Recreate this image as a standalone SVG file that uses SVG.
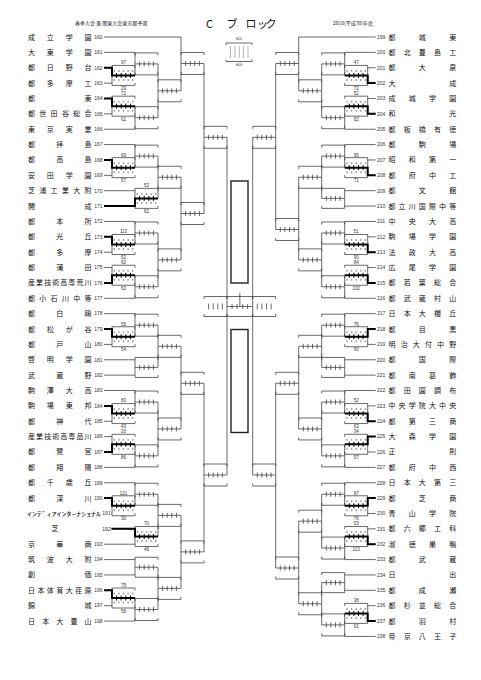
<svg xmlns="http://www.w3.org/2000/svg" width="481" height="680" viewBox="0 0 481 680">
<style>
.ln{fill:none;stroke:#444;stroke-width:.8}
.bk{fill:none;stroke:#000;stroke-width:2}
.tk{fill:none;stroke:#000;stroke-width:1}
.dt{fill:none;stroke:#a0a0a0;stroke-width:2;stroke-dasharray:1.4 3.2}
.big{fill:none;stroke:#222;stroke-width:1.4}
.nm{font-family:"Noto Sans CJK JP","Noto Sans CJK SC",sans-serif;font-size:7px;text-anchor:middle;fill:#111}
.no{font-family:"Liberation Sans",sans-serif;font-size:5px;fill:#333}
.nl{text-anchor:end}
.lb{font-family:"Liberation Sans",sans-serif;font-size:4.5px;text-anchor:middle;fill:#333}
.hd{font-family:"Noto Sans CJK JP",sans-serif;font-size:5px;fill:#222}
.tt{font-family:"Noto Sans CJK JP",sans-serif;font-size:11px;text-anchor:middle;fill:#111}
</style>
<defs>
<g id="o11"><path class="ln" d="M0,-8.5V-11H23V-8.5M0,8.5V11H23V8.5M0,0H23M4.6,-2.5v5M9.2,-2.5v5M13.8,-2.5v5M18.4,-2.5v5"/></g>
<g id="o10"><path class="ln" d="M0,-7.5V-10H23V-7.5M0,7.5V10H23V7.5M0,0H23M4.6,-2.5v5M9.2,-2.5v5M13.8,-2.5v5M18.4,-2.5v5"/></g>
<g id="c10"><path class="ln" d="M0,-7.5V-10H23V-7.5M0,7.5V10H23V7.5"/><path class="dt" d="M1.6,-4.5H23M1.6,4.5H23"/><path class="tk" d="M4.6,-2.5v5M9.2,-2.5v5M13.8,-2.5v5M18.4,-2.5v5"/></g>
<g id="s10"><path class="ln" d="M0,-7.5V-10H23V-7.5M0,7.5V10H23V7.5M4.6,-3v6M9.2,-3v6M13.8,-3v6M18.4,-3v6"/></g>
</defs>
<rect width="481" height="680" fill="#fff"/>
<g id="header">
<text class="hd" x="75" y="25">春季大会 兼 関東大会東京都予選</text>
<text class="tt" x="209.5 232 251 262.5 271" y="28">Cブロック</text>
<text class="hd" x="333" y="25">2018(平成30)年度</text>
</g>
<g id="legend">
<text class="lb" x="239" y="40" style="font-size:3.5px;font-family:'Noto Sans CJK JP',sans-serif">合計</text>
<path class="ln" d="M226,45V43H252V45M226,59.5V61.5H252V59.5"/>
<path class="ln" style="stroke-dasharray:1 1" d="M230.5,46.5V58.5M235,46.5V58.5M239.3,46.5V58.5M243.5,46.5V58.5M248,46.5V58.5"/>
<text class="lb" x="239" y="66" style="font-size:3.5px;font-family:'Noto Sans CJK JP',sans-serif">合計</text>
</g>
<g id="connectors">
<g id="left-bracket">
<path class="ln" d="M104,37H181M104,52.37H135M104,129.22H135M104,144.59H135M104,190.7H135M104,206.07H135M104,221.44H135M104,298.29H135M104,313.66H135M104,359.77H135M104,375.14H135M104,390.51H135M104,467.36H135M104,482.73H135M111.5,528.84H135M104,544.21H135M104,559.58H135M104,574.95H135M104,621.06H135
M104,67.74H112M104,83.11H112M104,98.48H112M104,113.85H112M104,159.96H112M104,175.33H112M104,236.81H112M104,252.18H112M104,267.55H112M104,282.92H112M104,329.03H112M104,344.4H112M104,405.88H112M104,421.25H112M104,436.62H112M104,451.99H112M104,498.1H112M111.5,513.47H112M104,590.32H112M104,605.69H112
M112,67.74V83.11M112,98.48V113.85M112,159.96V175.33M112,236.81V252.18M112,267.55V282.92M112,329.03V344.4M112,405.88V421.25M112,436.62V451.99M112,498.1V513.47M112,590.32V605.69
M135,52.37V75.43M135,106.17V129.22M135,144.59V167.65M135,190.7V206.07M135,221.44V244.5M135,275.24V298.29M135,313.66V336.72M135,359.77V375.14M135,390.51V413.57M135,444.31V467.36M135,482.73V505.79M135,528.84V544.21M135,559.58V574.95M135,598V621.06
M158,63.9V117.7M158,156.12V198.39M158,232.97V286.76M158,325.19V367.45M158,402.04V455.83M158,494.26V536.52M158,567.27V609.53
M181,37V90.8M181,177.25V259.87M181,346.32V428.94M181,515.39V588.4
M204,63.5V213.5M204,383.3V551.9M227,137.3V475"/>
<use href="#c10" x="112" y="75.43"/><use href="#c10" x="112" y="106.17"/><use href="#c10" x="112" y="167.65"/><use href="#c10" x="112" y="244.5"/><use href="#c10" x="112" y="275.24"/><use href="#c10" x="112" y="336.72"/><use href="#c10" x="112" y="413.57"/><use href="#c10" x="112" y="444.31"/><use href="#c10" x="112" y="505.79"/><use href="#c10" x="112" y="598"/>
<use href="#c10" x="135" y="198.39"/><use href="#c10" x="135" y="536.52"/>
<use href="#o11" x="135" y="63.9"/><use href="#o11" x="135" y="117.7"/><use href="#o11" x="135" y="156.12"/><use href="#o11" x="135" y="232.97"/><use href="#o11" x="135" y="286.76"/><use href="#o11" x="135" y="325.19"/><use href="#o11" x="135" y="402.04"/><use href="#o11" x="135" y="455.83"/><use href="#o11" x="135" y="494.26"/><use href="#o11" x="135" y="609.53"/>
<use href="#o10" x="135" y="367.45"/><use href="#o10" x="135" y="567.27"/>
<use href="#o11" x="158" y="90.8"/><use href="#o11" x="158" y="177.25"/><use href="#o11" x="158" y="259.87"/><use href="#o11" x="158" y="346.32"/><use href="#o11" x="158" y="428.94"/><use href="#o11" x="158" y="515.39"/><use href="#o11" x="158" y="588.4"/>
<use href="#o11" x="181" y="63.5"/><use href="#o11" x="181" y="213.5"/><use href="#o11" x="181" y="383.3"/><use href="#o11" x="181" y="551.9"/>
<use href="#o11" x="204" y="137.3"/><use href="#o11" x="204" y="475"/>
<use href="#s10" x="204" y="306.5"/>
<path class="bk" d="M104,67.74H112V75.43H135M104,98.48H112V106.17H135M104,159.96H112V167.65H135M104,206.07H135V198.39H158M104,236.81H112V244.5H135M104,282.92H112V275.24H135M104,329.03H112V336.72H135M104,405.88H112V413.57H135M104,451.99H112V444.31H135M104,498.1H112V505.79H135M111.5,528.84H135V536.52H158M104,590.32H112V598H135"/>
</g>
<g id="right-bracket" transform="matrix(-1 0 0 1 479.7 0)">
<path class="ln" d="M104,37H181M104,52.37H135M104,129.22H135M104,144.59H135M104,190.7H135M104,206.07H135M104,221.44H135M104,298.29H135M104,313.66H135M104,359.77H135M104,375.14H135M104,390.51H135M104,467.36H135M104,482.73H135M104,559.58H135M104,574.95H135M104,590.32H135M104,636.43H135
M104,67.74H112M104,83.11H112M104,98.48H112M104,113.85H112M104,159.96H112M104,175.33H112M104,236.81H112M104,252.18H112M104,267.55H112M104,282.92H112M104,329.03H112M104,344.4H112M104,405.88H112M104,421.25H112M104,436.62H112M104,451.99H112M104,498.1H112M104,513.47H112M104,528.84H112M104,544.21H112M104,605.69H112M104,621.06H112
M112,67.74V83.11M112,98.48V113.85M112,159.96V175.33M112,236.81V252.18M112,267.55V282.92M112,329.03V344.4M112,405.88V421.25M112,436.62V451.99M112,498.1V513.47M112,528.84V544.21M112,605.69V621.06
M135,52.37V75.43M135,106.17V129.22M135,144.59V167.65M135,190.7V206.07M135,221.44V244.5M135,275.24V298.29M135,313.66V336.72M135,359.77V375.14M135,390.51V413.57M135,444.31V467.36M135,482.73V505.79M135,536.52V559.58M135,574.95V590.32M135,613.38V636.43
M158,63.9V117.7M158,156.12V198.39M158,232.97V286.76M158,325.19V367.45M158,402.04V455.83M158,494.26V548.05M158,582.64V624.9
M181,37V90.8M181,177.25V259.87M181,346.32V428.94M181,521.16V603.77
M204,63.5V229.5M204,383.3V568M227,137.3V475"/>
<use href="#c10" x="112" y="75.43"/><use href="#c10" x="112" y="106.17"/><use href="#c10" x="112" y="167.65"/><use href="#c10" x="112" y="244.5"/><use href="#c10" x="112" y="275.24"/><use href="#c10" x="112" y="336.72"/><use href="#c10" x="112" y="413.57"/><use href="#c10" x="112" y="444.31"/><use href="#c10" x="112" y="505.79"/><use href="#c10" x="112" y="536.52"/><use href="#c10" x="112" y="613.38"/>
<use href="#o11" x="135" y="63.9"/><use href="#o11" x="135" y="117.7"/><use href="#o11" x="135" y="156.12"/><use href="#o11" x="135" y="232.97"/><use href="#o11" x="135" y="286.76"/><use href="#o11" x="135" y="325.19"/><use href="#o11" x="135" y="402.04"/><use href="#o11" x="135" y="455.83"/><use href="#o11" x="135" y="494.26"/><use href="#o11" x="135" y="548.05"/><use href="#o11" x="135" y="624.9"/>
<use href="#o10" x="135" y="198.39"/><use href="#o10" x="135" y="367.45"/><use href="#o10" x="135" y="582.64"/>
<use href="#o11" x="158" y="90.8"/><use href="#o11" x="158" y="177.25"/><use href="#o11" x="158" y="259.87"/><use href="#o11" x="158" y="346.32"/><use href="#o11" x="158" y="428.94"/><use href="#o11" x="158" y="521.16"/><use href="#o11" x="158" y="603.77"/>
<use href="#o11" x="181" y="63.5"/><use href="#o11" x="181" y="229.5"/><use href="#o11" x="181" y="383.3"/><use href="#o11" x="181" y="568"/>
<use href="#o11" x="204" y="137.3"/><use href="#o11" x="204" y="475"/>
<use href="#s10" x="204" y="306.5"/>
<path class="bk" d="M104,83.11H112V75.43H135M104,113.85H112V106.17H135M104,175.33H112V167.65H135M104,252.18H112V244.5H135M104,282.92H112V275.24H135M104,329.03H112V336.72H135M104,421.25H112V413.57H135M104,436.62H112V444.31H135M104,498.1H112V505.79H135M104,544.21H112V536.52H135M104,621.06H112V613.38H135"/>
</g>
<g id="final">
<path class="ln" d="M227,298.5V296.5H252.7V298.5M227,314.5V316.5H252.7V314.5M227,306.5H252.7M232.1,304v5M237,304v5M242.7,304v5M247.6,304v5M239.85,293V306.5"/>
<rect class="big" x="231" y="181" width="17" height="102"/>
<rect class="big" x="231" y="329.5" width="17" height="103"/>
</g>
</g>
<g id="labels">
<text class="lb" x="123.5" y="64.2">97</text><text class="lb" x="123.5" y="90">29</text>
<text class="lb" x="123.5" y="95">72</text><text class="lb" x="123.5" y="120.8">62</text>
<text class="lb" x="123.5" y="156.5">69</text><text class="lb" x="123.5" y="182.3">57</text>
<text class="lb" x="146.5" y="187.2">53</text><text class="lb" x="146.5" y="213">62</text>
<text class="lb" x="123.5" y="233.3">113</text><text class="lb" x="123.5" y="259.1">52</text>
<text class="lb" x="123.5" y="264">60</text><text class="lb" x="123.5" y="289.8">63</text>
<text class="lb" x="123.5" y="325.5">55</text><text class="lb" x="123.5" y="351.3">54</text>
<text class="lb" x="123.5" y="402.4">83</text><text class="lb" x="123.5" y="428.2">43</text>
<text class="lb" x="123.5" y="433.1">20</text><text class="lb" x="123.5" y="458.9">86</text>
<text class="lb" x="123.5" y="494.6">121</text><text class="lb" x="123.5" y="520.4">30</text>
<text class="lb" x="146.5" y="525.3">70</text><text class="lb" x="146.5" y="551.1">48</text>
<text class="lb" x="123.5" y="586.8">75</text><text class="lb" x="123.5" y="612.6">58</text>
<text class="lb" x="356.2" y="64.2">47</text><text class="lb" x="356.2" y="90">72</text>
<text class="lb" x="356.2" y="95">52</text><text class="lb" x="356.2" y="120.8">62</text>
<text class="lb" x="356.2" y="156.5">95</text><text class="lb" x="356.2" y="182.3">71</text>
<text class="lb" x="356.2" y="233.3">51</text><text class="lb" x="356.2" y="259.1">90</text>
<text class="lb" x="356.2" y="264">84</text><text class="lb" x="356.2" y="289.8">102</text>
<text class="lb" x="356.2" y="325.5">76</text><text class="lb" x="356.2" y="351.3">60</text>
<text class="lb" x="356.2" y="402.4">52</text><text class="lb" x="356.2" y="428.2">63</text>
<text class="lb" x="356.2" y="433.1">34</text><text class="lb" x="356.2" y="458.9">57</text>
<text class="lb" x="356.2" y="494.6">87</text><text class="lb" x="356.2" y="520.4">76</text>
<text class="lb" x="356.2" y="525.3">53</text><text class="lb" x="356.2" y="551.1">113</text>
<text class="lb" x="356.2" y="602.2">38</text><text class="lb" x="356.2" y="628">61</text>
</g>
<g id="teams-left">
<g id="t160"><text class="nm" x="31.5 50.33 69.17 88" y="39.5">成立学園</text><text class="no nl" x="102.5" y="38.8">160</text></g>
<g id="t161"><text class="nm" x="31.5 50.33 69.17 88" y="54.87">大東学園</text><text class="no nl" x="102.5" y="54.17">161</text></g>
<g id="t162"><text class="nm" x="31.5 50.33 69.17 88" y="70.24">都日野台</text><text class="no nl" x="102.5" y="69.54">162</text></g>
<g id="t163"><text class="nm" x="31.5 50.33 69.17 88" y="85.61">都多摩工</text><text class="no nl" x="102.5" y="84.91">163</text></g>
<g id="t164"><text class="nm" x="31.5 88" y="100.98">都東</text><text class="no nl" x="102.5" y="100.28">164</text></g>
<g id="t165"><text class="nm" x="31.5 42.8 54.1 65.4 76.7 88" y="116.35">都世田谷総合</text><text class="no nl" x="102.5" y="115.65">165</text></g>
<g id="t166"><text class="nm" x="31.5 50.33 69.17 88" y="131.72">東京実業</text><text class="no nl" x="102.5" y="131.02">166</text></g>
<g id="t167"><text class="nm" x="31.5 59.75 88" y="147.09">都拝島</text><text class="no nl" x="102.5" y="146.39">167</text></g>
<g id="t168"><text class="nm" x="31.5 59.75 88" y="162.46">都高島</text><text class="no nl" x="102.5" y="161.76">168</text></g>
<g id="t169"><text class="nm" x="31.5 50.33 69.17 88" y="177.83">安田学園</text><text class="no nl" x="102.5" y="177.13">169</text></g>
<g id="t170"><text class="nm" x="31.5 42.8 54.1 65.4 76.7 88" y="193.2">芝浦工業大附</text><text class="no nl" x="102.5" y="192.5">170</text></g>
<g id="t171"><text class="nm" x="31.5 88" y="208.57">開成</text><text class="no nl" x="102.5" y="207.87">171</text></g>
<g id="t172"><text class="nm" x="31.5 59.75 88" y="223.94">都本所</text><text class="no nl" x="102.5" y="223.24">172</text></g>
<g id="t173"><text class="nm" x="31.5 59.75 88" y="239.31">都光丘</text><text class="no nl" x="102.5" y="238.61">173</text></g>
<g id="t174"><text class="nm" x="31.5 59.75 88" y="254.68">都多摩</text><text class="no nl" x="102.5" y="253.98">174</text></g>
<g id="t175"><text class="nm" x="31.5 59.75 88" y="270.05">都蒲田</text><text class="no nl" x="102.5" y="269.35">175</text></g>
<g id="t176"><text class="nm" x="31.5 39.57 47.64 55.71 63.79 71.86 79.93 88" y="285.42">産業技術高専荒川</text><text class="no nl" x="102.5" y="284.72">176</text></g>
<g id="t177"><text class="nm" x="31.5 42.8 54.1 65.4 76.7 88" y="300.79">都小石川中等</text><text class="no nl" x="102.5" y="300.09">177</text></g>
<g id="t178"><text class="nm" x="31.5 59.75 88" y="316.16">都白鴎</text><text class="no nl" x="102.5" y="315.46">178</text></g>
<g id="t179"><text class="nm" x="31.5 50.33 69.17 88" y="331.53">都松が谷</text><text class="no nl" x="102.5" y="330.83">179</text></g>
<g id="t180"><text class="nm" x="31.5 59.75 88" y="346.9">都戸山</text><text class="no nl" x="102.5" y="346.2">180</text></g>
<g id="t181"><text class="nm" x="31.5 50.33 69.17 88" y="362.27">啓明学園</text><text class="no nl" x="102.5" y="361.57">181</text></g>
<g id="t182"><text class="nm" x="31.5 59.75 88" y="377.64">武蔵野</text><text class="no nl" x="102.5" y="376.94">182</text></g>
<g id="t183"><text class="nm" x="31.5 50.33 69.17 88" y="393.01">駒澤大高</text><text class="no nl" x="102.5" y="392.31">183</text></g>
<g id="t184"><text class="nm" x="31.5 50.33 69.17 88" y="408.38">駒場東邦</text><text class="no nl" x="102.5" y="407.68">184</text></g>
<g id="t185"><text class="nm" x="31.5 59.75 88" y="423.75">都神代</text><text class="no nl" x="102.5" y="423.05">185</text></g>
<g id="t186"><text class="nm" x="31.5 39.57 47.64 55.71 63.79 71.86 79.93 88" y="439.12">産業技術高専品川</text><text class="no nl" x="102.5" y="438.42">186</text></g>
<g id="t187"><text class="nm" x="31.5 59.75 88" y="454.49">都鷺宮</text><text class="no nl" x="102.5" y="453.79">187</text></g>
<g id="t188"><text class="nm" x="31.5 59.75 88" y="469.86">都翔陽</text><text class="no nl" x="102.5" y="469.16">188</text></g>
<g id="t189"><text class="nm" x="31.5 50.33 69.17 88" y="485.23">都千歳丘</text><text class="no nl" x="102.5" y="484.53">189</text></g>
<g id="t190"><text class="nm" x="31.5 59.75 88" y="500.6">都深川</text><text class="no nl" x="102.5" y="499.9">190</text></g>
<g id="t191"><text class="nm" x="27" y="515.97" textLength="74" lengthAdjust="spacingAndGlyphs" style="text-anchor:start;font-size:6px">ｲﾝﾃﾞｨｱｲﾝﾀｰﾅｼｮﾅﾙ</text><text class="no nl" x="110.7" y="515.27">191</text></g>
<g id="t192"><text class="nm" x="55" y="531.34">芝</text><text class="no nl" x="110.7" y="530.64">192</text></g>
<g id="t193"><text class="nm" x="31.5 59.75 88" y="546.71">京華商</text><text class="no nl" x="102.5" y="546.01">193</text></g>
<g id="t194"><text class="nm" x="31.5 50.33 69.17 88" y="562.08">筑波大附</text><text class="no nl" x="102.5" y="561.38">194</text></g>
<g id="t195"><text class="nm" x="31.5 88" y="577.45">創価</text><text class="no nl" x="102.5" y="576.75">195</text></g>
<g id="t196"><text class="nm" x="31.5 40.92 50.33 59.75 69.17 78.58 88" y="592.82">日本体育大荏原</text><text class="no nl" x="102.5" y="592.12">196</text></g>
<g id="t197"><text class="nm" x="31.5 88" y="608.19">錦城</text><text class="no nl" x="102.5" y="607.49">197</text></g>
<g id="t198"><text class="nm" x="31.5 45.63 59.75 73.88 88" y="623.56">日本大豊山</text><text class="no nl" x="102.5" y="622.86">198</text></g>
</g>
<g id="teams-right">
<g id="t199"><text class="no" x="377" y="38.8">199</text><text class="nm" x="392 422.35 452.7" y="39.5">都城東</text></g>
<g id="t200"><text class="no" x="377" y="54.17">200</text><text class="nm" x="392 407.18 422.35 437.53 452.7" y="54.87">都北豊島工</text></g>
<g id="t201"><text class="no" x="377" y="69.54">201</text><text class="nm" x="392 422.35 452.7" y="70.24">都大泉</text></g>
<g id="t202"><text class="no" x="377" y="84.91">202</text><text class="nm" x="392 452.7" y="85.61">大成</text></g>
<g id="t203"><text class="no" x="377" y="100.28">203</text><text class="nm" x="392 412.23 432.47 452.7" y="100.98">成城学園</text></g>
<g id="t204"><text class="no" x="377" y="115.65">204</text><text class="nm" x="392 452.7" y="116.35">和光</text></g>
<g id="t205"><text class="no" x="377" y="131.02">205</text><text class="nm" x="392 407.18 422.35 437.53 452.7" y="131.72">都板橋有徳</text></g>
<g id="t206"><text class="no" x="377" y="146.39">206</text><text class="nm" x="392 422.35 452.7" y="147.09">都駒場</text></g>
<g id="t207"><text class="no" x="377" y="161.76">207</text><text class="nm" x="392 412.23 432.47 452.7" y="162.46">昭和第一</text></g>
<g id="t208"><text class="no" x="377" y="177.13">208</text><text class="nm" x="392 412.23 432.47 452.7" y="177.83">都府中工</text></g>
<g id="t209"><text class="no" x="377" y="192.5">209</text><text class="nm" x="392 422.35 452.7" y="193.2">都文館</text></g>
<g id="t210"><text class="no" x="377" y="207.87">210</text><text class="nm" x="392 402.12 412.23 422.35 432.47 442.58 452.7" y="208.57">都立川国際中等</text></g>
<g id="t211"><text class="no" x="377" y="223.24">211</text><text class="nm" x="392 412.23 432.47 452.7" y="223.94">中央大高</text></g>
<g id="t212"><text class="no" x="377" y="238.61">212</text><text class="nm" x="392 412.23 432.47 452.7" y="239.31">駒場学園</text></g>
<g id="t213"><text class="no" x="377" y="253.98">213</text><text class="nm" x="392 412.23 432.47 452.7" y="254.68">法政大高</text></g>
<g id="t214"><text class="no" x="377" y="269.35">214</text><text class="nm" x="392 412.23 432.47 452.7" y="270.05">広尾学園</text></g>
<g id="t215"><text class="no" x="377" y="284.72">215</text><text class="nm" x="392 407.18 422.35 437.53 452.7" y="285.42">都若葉総合</text></g>
<g id="t216"><text class="no" x="377" y="300.09">216</text><text class="nm" x="392 407.18 422.35 437.53 452.7" y="300.79">都武蔵村山</text></g>
<g id="t217"><text class="no" x="377" y="315.46">217</text><text class="nm" x="392 407.18 422.35 437.53 452.7" y="316.16">日本大櫻丘</text></g>
<g id="t218"><text class="no" x="377" y="330.83">218</text><text class="nm" x="392 422.35 452.7" y="331.53">都目黒</text></g>
<g id="t219"><text class="no" x="377" y="346.2">219</text><text class="nm" x="392 404.14 416.28 428.42 440.56 452.7" y="346.9">明治大付中野</text></g>
<g id="t220"><text class="no" x="377" y="361.57">220</text><text class="nm" x="392 422.35 452.7" y="362.27">都国際</text></g>
<g id="t221"><text class="no" x="377" y="376.94">221</text><text class="nm" x="392 412.23 432.47 452.7" y="377.64">都南葛飾</text></g>
<g id="t222"><text class="no" x="377" y="392.31">222</text><text class="nm" x="392 407.18 422.35 437.53 452.7" y="393.01">都田園調布</text></g>
<g id="t223"><text class="no" x="377" y="407.68">223</text><text class="nm" x="392 402.12 412.23 422.35 432.47 442.58 452.7" y="408.38">中央学院大中央</text></g>
<g id="t224"><text class="no" x="377" y="423.05">224</text><text class="nm" x="392 412.23 432.47 452.7" y="423.75">都第三商</text></g>
<g id="t225"><text class="no" x="377" y="438.42">225</text><text class="nm" x="392 412.23 432.47 452.7" y="439.12">大森学園</text></g>
<g id="t226"><text class="no" x="377" y="453.79">226</text><text class="nm" x="392 452.7" y="454.49">正則</text></g>
<g id="t227"><text class="no" x="377" y="469.16">227</text><text class="nm" x="392 412.23 432.47 452.7" y="469.86">都府中西</text></g>
<g id="t228"><text class="no" x="377" y="484.53">228</text><text class="nm" x="392 407.18 422.35 437.53 452.7" y="485.23">日本大第三</text></g>
<g id="t229"><text class="no" x="377" y="499.9">229</text><text class="nm" x="392 422.35 452.7" y="500.6">都芝商</text></g>
<g id="t230"><text class="no" x="377" y="515.27">230</text><text class="nm" x="392 412.23 432.47 452.7" y="515.97">青山学院</text></g>
<g id="t231"><text class="no" x="377" y="530.64">231</text><text class="nm" x="392 407.18 422.35 437.53 452.7" y="531.34">都六郷工科</text></g>
<g id="t232"><text class="no" x="377" y="546.01">232</text><text class="nm" x="392 412.23 432.47 452.7" y="546.71">淑徳巣鴨</text></g>
<g id="t233"><text class="no" x="377" y="561.38">233</text><text class="nm" x="392 422.35 452.7" y="562.08">都武蔵</text></g>
<g id="t234"><text class="no" x="377" y="576.75">234</text><text class="nm" x="392 452.7" y="577.45">日出</text></g>
<g id="t235"><text class="no" x="377" y="592.12">235</text><text class="nm" x="392 422.35 452.7" y="592.82">都成瀬</text></g>
<g id="t236"><text class="no" x="377" y="607.49">236</text><text class="nm" x="392 407.18 422.35 437.53 452.7" y="608.19">都杉並総合</text></g>
<g id="t237"><text class="no" x="377" y="622.86">237</text><text class="nm" x="392 422.35 452.7" y="623.56">都羽村</text></g>
<g id="t238"><text class="no" x="377" y="638.23">238</text><text class="nm" x="392 407.18 422.35 437.53 452.7" y="638.93">帝京八王子</text></g>
</g>
</svg>
